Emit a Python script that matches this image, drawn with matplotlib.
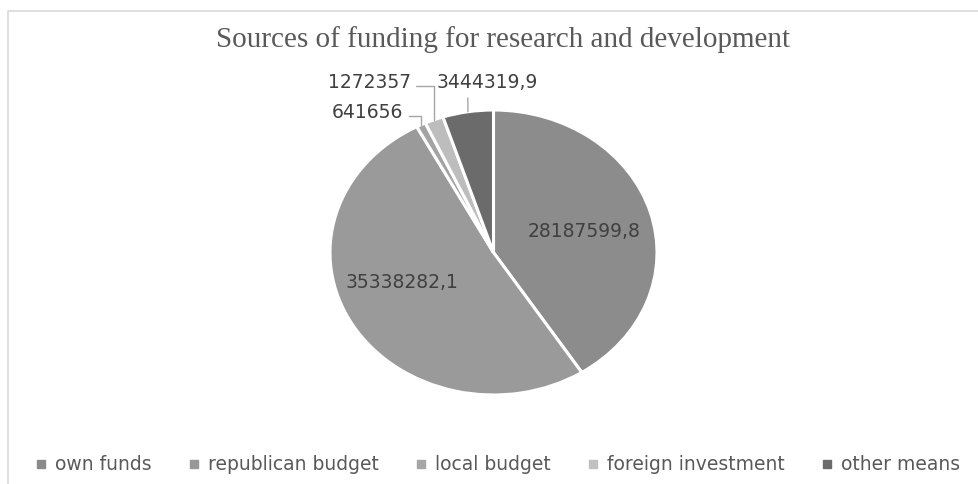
import numpy as np
import matplotlib.pyplot as plt
from matplotlib.lines import Line2D
from matplotlib.patches import Rectangle

categories = ["own funds", "republican budget", "local budget", "foreign investment", "other means"]
values = [28187599.8, 35338282.1, 641656, 1272357, 3444319.9]
value_labels = ["28187599,8", "35338282,1", "641656", "1272357", "3444319,9"]
colors = ["#8c8c8c", "#9a9a9a", "#a3a3a3", "#bdbdbd", "#6b6b6b"]
legend_colors = ["#8a8a8a", "#979797", "#a6a6a6", "#c0c0c0", "#6b6b6b"]

title = "Sources of funding for research and development"

# label placement: (radius factor, angle offset) for the two big slices,
# text offset for the small ones (axes data units)
inner_pos = {0: (0.575, -1.8), 1: (0.60, -9.5)}
outer_text = {2: (-0.77, 0.98), 3: (-0.76, 1.19), 4: (-0.04, 1.19)}

fig = plt.figure(figsize=(9.79, 4.84), dpi=100)
fig.patches.append(Rectangle((8 / 979, -0.01), 1.05, 1 - 11 / 484 + 0.01, transform=fig.transFigure,
                             fill=False, edgecolor="#d9d9d9", linewidth=1.2))

ax = fig.add_axes([330 / 979, (484 - 395) / 484, 327 / 979, 285 / 484])
wedges, _ = ax.pie(values, colors=colors, startangle=90, counterclock=False,
                   wedgeprops=dict(edgecolor="white", linewidth=2.2), radius=1.0)
ax.set_aspect("auto")
ax.set_xlim(-1, 1)
ax.set_ylim(-1, 1)
ax.axis("off")

for i, w in enumerate(wedges):
    mid = np.deg2rad((w.theta1 + w.theta2) / 2)
    if i in inner_pos:
        r, off = inner_pos[i]
        a = mid + np.deg2rad(off)
        ax.text(r * np.cos(a), r * np.sin(a), value_labels[i], ha="center", va="center",
                fontsize=13.5, color="#404040")
    else:
        tx, ty = outer_text[i]
        edge = (np.cos(mid), np.sin(mid))
        if i == 4:
            cs = "arc3"
            rel = (0.31, 0.0)
        else:
            cs = "angle,angleA=0,angleB=90,rad=0"
            rel = (1.0, 0.35)
        ax.annotate(value_labels[i], xy=edge, xytext=(tx, ty), ha="center", va="center",
                    fontsize=13.5, color="#404040", annotation_clip=False,
                    arrowprops=dict(arrowstyle="-", color="#a6a6a6", lw=1.0,
                                    connectionstyle=cs, relpos=rel, shrinkA=2, shrinkB=0))

fig.text(503 / 979, 1 - 40 / 484, title, ha="center", va="center",
         fontsize=21, family="Liberation Serif", color="#595959")

handles = [Line2D([], [], marker="s", linestyle="none", markersize=6, color=c) for c in legend_colors]
fig.legend(handles, categories, loc="center", bbox_to_anchor=(498 / 979, 1 - 465 / 484), ncol=5,
           frameon=False, fontsize=13.5, handlelength=0.5, handletextpad=0.5, columnspacing=2.0,
           labelcolor="#595959")

fig.savefig("out.png", dpi=100)
